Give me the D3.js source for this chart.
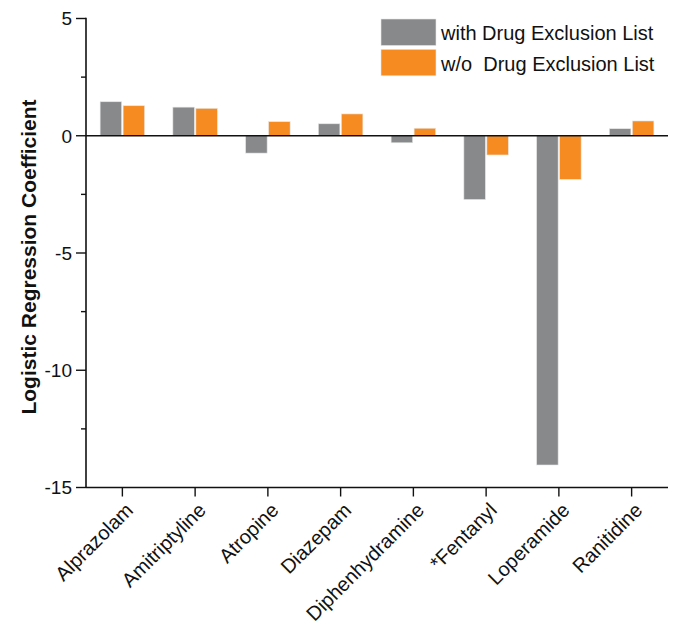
<!DOCTYPE html>
<html>
<head>
  <meta charset="utf-8">
  <script src="https://cdn.jsdelivr.net/npm/d3@7"></script>
  <style>
    body { margin: 0; background: #fff; }
    text { font-family: "Liberation Sans", Arial, Helvetica, sans-serif; }
  </style>
</head>
<body>
  <svg id="chart" width="675" height="626"></svg>
  <script>
    // data
    var drugs   = ["Alprazolam", "Amitriptyline", "Atropine", "Diazepam", "Diphenhydramine", "*Fentanyl", "Loperamide", "Ranitidine"];
    var withList = [1.45, 1.22, -0.74, 0.51, -0.30, -2.72, -14.04, 0.30];
    var withoutList = [1.28, 1.17, 0.60, 0.93, 0.32, -0.82, -1.86, 0.63];
    var seriesNames = ["with Drug Exclusion List", "w/o  Drug Exclusion List"];
    var yTicks = [5, 2.5, 0, -2.5, -5, -7.5, -10, -12.5, -15];
    var colr = ["#87898b", "#f68b22"];

    var chart = d3.select("#chart");
    var margin = {top: 18.5, left: 86, right: 7, bottom: 138.5};
    var svgWidth = 675, svgHeight = 626;

    var x = d3.scaleBand().domain(drugs).range([margin.left, svgWidth - margin.right]);
    var y = d3.scaleLinear().domain([-15, 5]).range([svgHeight - margin.bottom, margin.top]);

    var barW = 21.5, gap = 1.5;

    // bars
    var series = [withList, withoutList];
    series.forEach(function(vals, s) {
      chart.append("g").selectAll("rect").data(vals).enter().append("rect")
        .attr("x", function(d, i) {
          var c = x(drugs[i]) + x.bandwidth() / 2;
          return s === 0 ? c - gap / 2 - barW : c + gap / 2;
        })
        .attr("y", function(d) { return y(Math.max(0, d)); })
        .attr("width", barW)
        .attr("height", function(d) { return Math.abs(y(d) - y(0)); })
        .style("fill", colr[s])
        .style("stroke", "#e6e6e6").style("stroke-width", 0.6);
    });

    // zero line
    chart.append("line")
      .attr("x1", margin.left).attr("x2", svgWidth - margin.right)
      .attr("y1", y(0)).attr("y2", y(0))
      .style("stroke", "#111").style("stroke-width", 1.6);

    // y axis
    var yAxis = chart.append("g").attr("transform", "translate(" + margin.left + ",0)");
    yAxis.append("line").attr("x1", 0).attr("x2", 0).attr("y1", y(5) - 0.8).attr("y2", y(-15))
      .style("stroke", "#111").style("stroke-width", 1.6);
    yTicks.forEach(function(t) {
      var major = (t % 5 === 0);
      yAxis.append("line").attr("x1", major ? -10 : -5).attr("x2", 0)
        .attr("y1", y(t)).attr("y2", y(t))
        .style("stroke", "#111").style("stroke-width", 1.4);
      if (major) {
        yAxis.append("text").attr("x", -14).attr("y", y(t)).attr("dy", "0.36em")
          .attr("text-anchor", "end").style("font-size", "19px").style("fill", "#111")
          .text(t);
      }
    });

    // x axis
    var xAxis = chart.append("g").attr("transform", "translate(0," + y(-15) + ")");
    xAxis.append("line").attr("x1", margin.left).attr("x2", svgWidth - margin.right)
      .attr("y1", 0).attr("y2", 0).style("stroke", "#111").style("stroke-width", 1.6);
    drugs.forEach(function(d) {
      var cx = x(d) + x.bandwidth() / 2;
      xAxis.append("line").attr("x1", cx).attr("x2", cx).attr("y1", 0).attr("y2", 9)
        .style("stroke", "#111").style("stroke-width", 1.4);
      xAxis.append("text")
        .attr("transform", "translate(" + (cx + 7) + ",19) rotate(-45)")
        .attr("text-anchor", "end").attr("dy", "0.35em")
        .style("font-size", "20px").style("fill", "#111")
        .text(d);
    });

    // y label
    chart.append("text")
      .attr("transform", "translate(36,257) rotate(-90)")
      .attr("text-anchor", "middle")
      .style("font-size", "21px").style("font-weight", "bold").style("fill", "#111")
      .text("Logistic Regression Coefficient");

    // legend
    seriesNames.forEach(function(n, i) {
      chart.append("rect").attr("x", 381).attr("y", 19 + i * 30.3).attr("width", 55).attr("height", 26.5)
        .style("fill", colr[i]).style("stroke", "#e6e6e6").style("stroke-width", 0.6);
      chart.append("text").attr("x", 441).attr("y", 33 + i * 30.3).attr("dy", "0.36em")
        .style("font-size", "20px").style("fill", "#111")
        .style("white-space", "pre").attr("xml:space", "preserve")
        .text(n);
    });
  </script>
</body>
</html>
